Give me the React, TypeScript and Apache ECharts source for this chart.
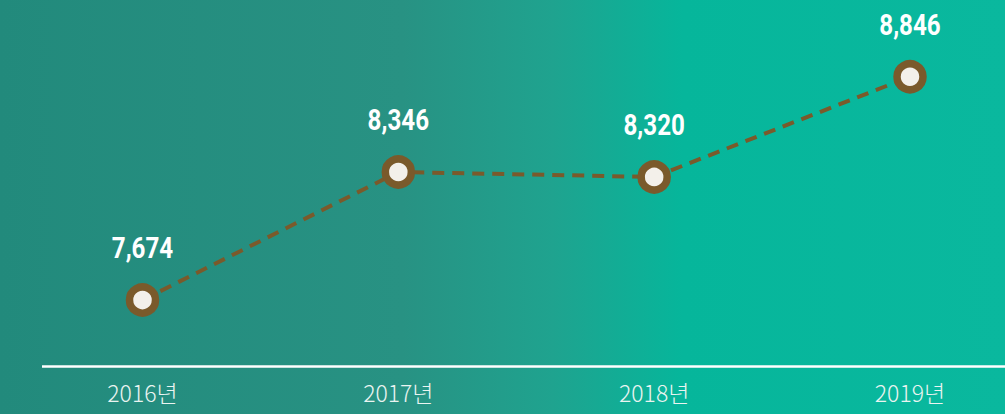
import React, { useEffect, useRef } from "react";
import * as echarts from "echarts";

const categories = ["2016년", "2017년", "2018년", "2019년"];
const values = [7674, 8346, 8320, 8846];

export default function App() {
  const ref = useRef<HTMLDivElement>(null);
  useEffect(() => {
    if (!ref.current) return;
    const chart = echarts.init(ref.current, null, { renderer: "svg" });
    const labelData = values.map((v, i) => [i, v]);
    chart.setOption({
      animation: false,
      backgroundColor: new echarts.graphic.LinearGradient(0, 0, 1, 0, [
        { offset: 0, color: "#228a7c" },
        { offset: 0.4, color: "#289283" },
        { offset: 0.55, color: "#1fa38f" },
        { offset: 0.68, color: "#06b69b" },
        { offset: 1, color: "#0ab89e" },
      ]),
      grid: { left: 142.5, right: 95, top: 47.4, bottom: 42.7 },
      xAxis: {
        type: "category",
        data: categories,
        boundaryGap: false,
        axisLine: { show: false },
        axisTick: { show: false },
        splitLine: { show: false },
        axisLabel: {
          color: "#eaf4f1",
          fontFamily: "'Noto Sans CJK KR', 'Noto Sans', sans-serif",
          fontWeight: 300,
          fontSize: 23,
          margin: 9,
        },
      },
      yAxis: {
        type: "value",
        min: 7300,
        max: 9000,
        show: false,
        splitLine: { show: false },
      },
      graphic: [
        {
          type: "line",
          shape: { x1: 42, y1: 366.5, x2: 1005, y2: 366.5 },
          style: { stroke: "#ffffff", lineWidth: 2.5 },
          z: 1,
        },
      ],
      series: [
        {
          type: "line",
          data: values,
          symbol: "circle",
          symbolSize: 26,
          itemStyle: { color: "#f3f0ea", borderColor: "#7a5a2b", borderWidth: 7.5 },
          lineStyle: { color: "#7a5a2b", width: 4, type: [12, 8] },
          label: { show: false },
          z: 3,
        },
        {
          type: "custom",
          data: labelData,
          encode: { x: 0, y: 1 },
          z: 4,
          renderItem: (params: any, api: any) => {
            const pt = api.coord([api.value(0), api.value(1)]);
            return {
              type: "text",
              x: pt[0],
              y: pt[1] - 67,
              scaleX: 0.82,
              style: {
                text: Number(api.value(1)).toLocaleString("en-US"),
                fill: "#ffffff",
                fontFamily: "Roboto, 'Noto Sans', sans-serif",
                fontWeight: "bold",
                fontSize: 29.5,
                align: "center",
                verticalAlign: "top",
              },
            };
          },
        },
      ],
    });
    return () => chart.dispose();
  }, []);
  return (
    <div
      ref={ref}
      style={{ position: "absolute", left: 0, top: 0, width: 1005, height: 414 }}
    />
  );
}
